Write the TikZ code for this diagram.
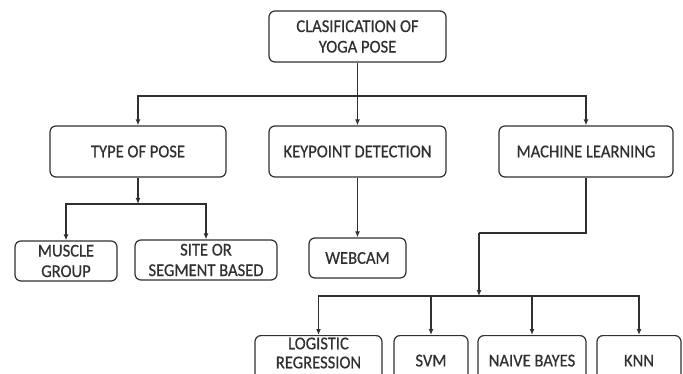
\documentclass[tikz,border=0pt]{standalone}
\usepackage{fontspec}
\setmainfont{Carlito}[FakeStretch=0.92,FakeBold=0.6]
\usetikzlibrary{arrows.meta}
\definecolor{ink}{HTML}{303030}
\begin{document}
\begin{tikzpicture}[x=1pt,y=-1pt,
  box/.style={draw=ink,line width=1.2pt,rounded corners=6pt,text=ink,
    font=\fontsize{18}{20.5}\selectfont,align=center,inner sep=0pt},
  conn/.style={draw=ink,line width=1.2pt},
  arr/.style={conn,-{Latex[length=6pt,width=5pt]}}]
\useasboundingbox (0,0) rectangle (683,374);
\node[box,minimum width=177pt,minimum height=51pt] (top) at (357.5,36.5) {CLASIFICATION OF\\YOGA POSE};
\node[box,minimum width=176pt,minimum height=51pt] (type) at (138,151.5) {TYPE OF POSE};
\node[box,minimum width=177pt,minimum height=51pt] (key) at (357.5,151.5) {KEYPOINT DETECTION};
\node[box,minimum width=174pt,minimum height=51pt] (ml) at (586,151.5) {MACHINE LEARNING};
\node[box,minimum width=102pt,minimum height=40pt] (muscle) at (66,261) {MUSCLE\\GROUP};
\node[box,minimum width=142pt,minimum height=40pt] (site) at (206,260) {SITE OR\\SEGMENT BASED};
\node[box,minimum width=97pt,minimum height=40pt] (webcam) at (357.5,258) {WEBCAM};
\node[box,font=\fontsize{18}{19}\selectfont,minimum width=127pt,inner ysep=2pt,text depth=10pt,anchor=north] (logistic) at (318.5,335) {LOGISTIC\\REGRESSION};
\node[box,minimum width=74pt,minimum height=50pt,anchor=north] (svm) at (431,335) {SVM};
\node[box,minimum width=108pt,minimum height=50pt,anchor=north] (naive) at (532,335) {NAIVE BAYES};
\node[box,minimum width=84pt,minimum height=50pt,anchor=north] (knn) at (639,335) {KNN};
\coordinate (bus1) at (357.5,96);
\coordinate (tb) at (138,204);
\coordinate (mlj) at (479,233);
\coordinate (bus2) at (479,296);
% level 1
\draw[arr] (top.south) -- (key.north);
\draw[arr] (bus1) -| (type.north);
\draw[arr] (bus1) -| (ml.north);
% type of pose
\draw[arr] (type.south) -- (tb);
\draw[arr] (tb) -| (muscle.north);
\draw[arr] (tb) -| (site.north);
% keypoint
\draw[arr] (key.south) -- (webcam.north);
% machine learning
\draw[conn] (ml.south) |- (mlj);
\draw[arr] (mlj) -- (bus2);
\draw[arr] (bus2) -| (logistic.north);
\draw[arr] (bus2) -| (knn.north);
\draw[arr] (svm.north |- bus2) -- (svm.north);
\draw[arr] (naive.north |- bus2) -- (naive.north);
\end{tikzpicture}
\end{document}
